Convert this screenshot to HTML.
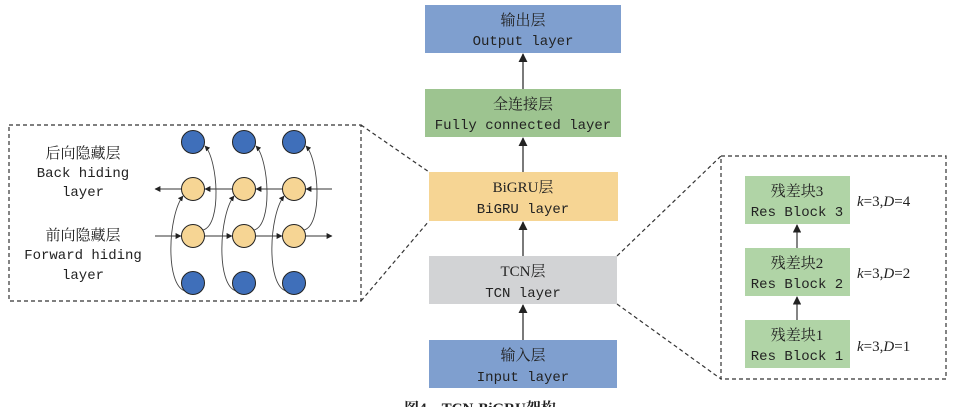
<!DOCTYPE html>
<html><head><meta charset="utf-8"><style>
html,body{margin:0;padding:0;background:#fff;}
svg{display:block;}
text{font-family:"Liberation Mono","Noto Serif CJK SC",monospace;fill:#222;}
.cn{font-family:"Liberation Serif","Noto Serif CJK SC",serif;}
</style></head><body>
<svg width="955" height="407" viewBox="0 0 955 407" xmlns="http://www.w3.org/2000/svg">
<defs>
<marker id="a" viewBox="0 0 10 10" refX="9" refY="5" markerWidth="7" markerHeight="7" orient="auto-start-reverse"><path d="M0,0 L10,5 L0,10 z" fill="#222"/></marker>
<marker id="s" viewBox="0 0 10 10" refX="9" refY="5" markerWidth="6" markerHeight="6" orient="auto"><path d="M0,0 L10,5 L0,10 z" fill="#222"/></marker>
</defs>
<!-- main boxes -->
<rect x="425" y="5" width="196" height="48" fill="#7f9fcf"/>
<text class="cn" x="523" y="25" font-size="15" text-anchor="middle">输出层</text>
<text x="523" y="45" font-size="14" text-anchor="middle">Output layer</text>
<rect x="425" y="89" width="196" height="48" fill="#9dc490"/>
<text class="cn" x="523" y="109" font-size="15" text-anchor="middle">全连接层</text>
<text x="523" y="129" font-size="14" text-anchor="middle">Fully connected layer</text>
<rect x="429" y="172" width="189" height="49" fill="#f6d594"/>
<text class="cn" x="523" y="192" font-size="15" text-anchor="middle">BiGRU层</text>
<text x="523" y="213" font-size="14" text-anchor="middle">BiGRU layer</text>
<rect x="429" y="256" width="188" height="48" fill="#d2d3d5"/>
<text class="cn" x="523" y="276" font-size="15" text-anchor="middle">TCN层</text>
<text x="523" y="297" font-size="14" text-anchor="middle">TCN layer</text>
<rect x="429" y="340" width="188" height="48" fill="#7f9fcf"/>
<text class="cn" x="523" y="360" font-size="15" text-anchor="middle">输入层</text>
<text x="523" y="381" font-size="14" text-anchor="middle">Input layer</text>
<g stroke="#333" stroke-width="1.3" marker-end="url(#a)">
<line x1="523" y1="89" x2="523" y2="54"/>
<line x1="523" y1="172" x2="523" y2="138"/>
<line x1="523" y1="256" x2="523" y2="222"/>
<line x1="523" y1="340" x2="523" y2="305"/>
</g>
<text class="cn" x="480" y="413" font-size="15" font-weight="bold" text-anchor="middle">图4　TCN-BiGRU架构</text>
<!-- left box -->
<g fill="none" stroke="#333" stroke-width="1.2" stroke-dasharray="4,3">
<rect x="9" y="125" width="352" height="176"/>
<line x1="361" y1="125" x2="429" y2="172"/>
<line x1="361" y1="301" x2="429" y2="221"/>
<rect x="721" y="156" width="225" height="223"/>
<line x1="617" y1="256" x2="721" y2="156"/>
<line x1="617" y1="304" x2="721" y2="379"/>
</g>
<text class="cn" x="83" y="158" font-size="15" text-anchor="middle">后向隐藏层</text>
<text x="83" y="177" font-size="14" text-anchor="middle">Back hiding</text>
<text x="83" y="196" font-size="14" text-anchor="middle">layer</text>
<text class="cn" x="83" y="240" font-size="15" text-anchor="middle">前向隐藏层</text>
<text x="83" y="259" font-size="14" text-anchor="middle">Forward hiding</text>
<text x="83" y="279" font-size="14" text-anchor="middle">layer</text>
<!-- arrows in BiGRU -->
<g stroke="#333" stroke-width="1" fill="none" marker-end="url(#s)">
<line x1="332" y1="189" x2="306" y2="189"/>
<line x1="282" y1="189" x2="256" y2="189"/>
<line x1="232" y1="189" x2="205" y2="189"/>
<line x1="181" y1="189" x2="155" y2="189"/>
<line x1="155" y1="236" x2="181" y2="236"/>
<line x1="205" y1="236" x2="232" y2="236"/>
<line x1="256" y1="236" x2="282" y2="236"/>
<line x1="306" y1="236" x2="332" y2="236"/>
</g>
<g stroke="#444" stroke-width="0.9" fill="none" marker-end="url(#s)">
<path d="M185,291 C165,285 168,215 183,196"/>
<path d="M236,291 C216,285 219,215 234,196"/>
<path d="M286,291 C266,285 269,215 284,196"/>
<path d="M203,230 C222,225 218,160 205,146"/>
<path d="M254,230 C273,225 269,160 256,146"/>
<path d="M304,230 C323,225 319,160 306,146"/>
</g>
<g stroke="#222" stroke-width="1">
<circle cx="193" cy="142" r="11.5" fill="#3f6fba"/>
<circle cx="244" cy="142" r="11.5" fill="#3f6fba"/>
<circle cx="294" cy="142" r="11.5" fill="#3f6fba"/>
<circle cx="193" cy="189" r="11.5" fill="#f6d594"/>
<circle cx="244" cy="189" r="11.5" fill="#f6d594"/>
<circle cx="294" cy="189" r="11.5" fill="#f6d594"/>
<circle cx="193" cy="236" r="11.5" fill="#f6d594"/>
<circle cx="244" cy="236" r="11.5" fill="#f6d594"/>
<circle cx="294" cy="236" r="11.5" fill="#f6d594"/>
<circle cx="193" cy="283" r="11.5" fill="#3f6fba"/>
<circle cx="244" cy="283" r="11.5" fill="#3f6fba"/>
<circle cx="294" cy="283" r="11.5" fill="#3f6fba"/>
</g>
<!-- res blocks -->
<rect x="745" y="176" width="105" height="48" fill="#b0d4a6"/>
<text class="cn" x="797" y="196" font-size="15" text-anchor="middle">残差块3</text>
<text x="797" y="216" font-size="14" text-anchor="middle">Res Block 3</text>
<rect x="745" y="248" width="105" height="48" fill="#b0d4a6"/>
<text class="cn" x="797" y="268" font-size="15" text-anchor="middle">残差块2</text>
<text x="797" y="288" font-size="14" text-anchor="middle">Res Block 2</text>
<rect x="745" y="320" width="105" height="48" fill="#b0d4a6"/>
<text class="cn" x="797" y="340" font-size="15" text-anchor="middle">残差块1</text>
<text x="797" y="360" font-size="14" text-anchor="middle">Res Block 1</text>
<g stroke="#333" stroke-width="1.2" marker-end="url(#a)">
<line x1="797" y1="248" x2="797" y2="225"/>
<line x1="797" y1="320" x2="797" y2="297"/>
</g>
<g class="cn" font-size="15" font-family="Liberation Serif,serif">
<text x="857" y="206" style="font-family:'Liberation Serif',serif"><tspan font-style="italic">k</tspan>=3,<tspan font-style="italic">D</tspan>=4</text>
<text x="857" y="278" style="font-family:'Liberation Serif',serif"><tspan font-style="italic">k</tspan>=3,<tspan font-style="italic">D</tspan>=2</text>
<text x="857" y="351" style="font-family:'Liberation Serif',serif"><tspan font-style="italic">k</tspan>=3,<tspan font-style="italic">D</tspan>=1</text>
</g>
</svg>
</body></html>
